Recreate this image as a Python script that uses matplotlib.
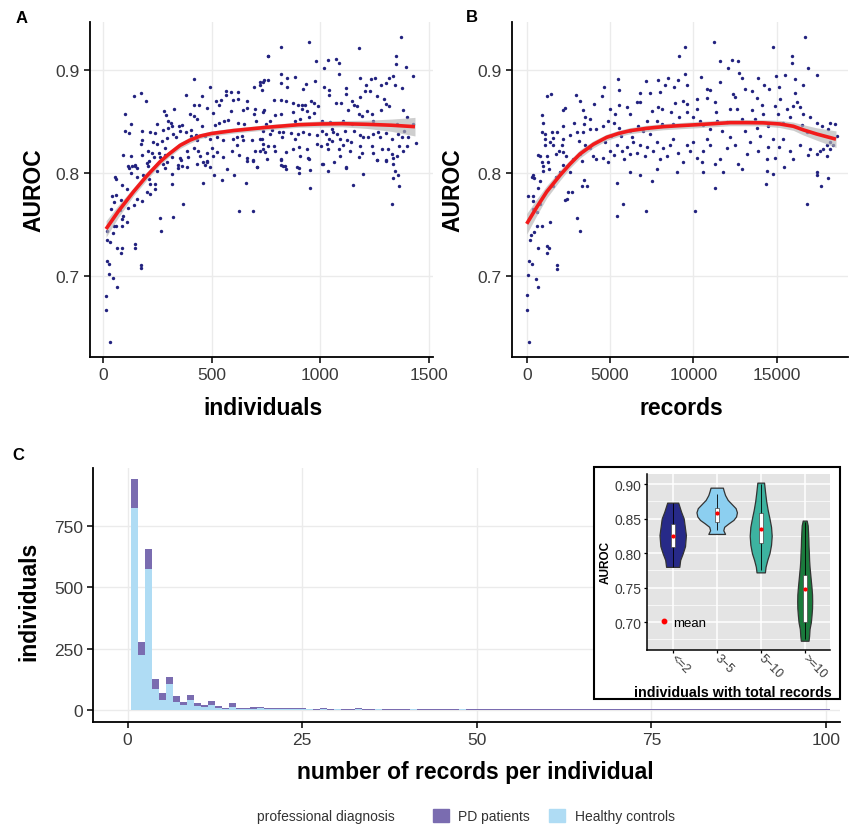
import matplotlib.pyplot as plt
import numpy as np
from matplotlib.patches import Rectangle, Patch
from matplotlib.lines import Line2D

plt.rcParams['font.family'] = ['Liberation Sans', 'DejaVu Sans']

# ---- panel A: AUROC vs number of individuals (individuals, auroc)
pts_individuals = [
    (758, .914), (420, .891), (493, .884), (143, .875), (173, .878), (198, .870), (382, .876), (456, .875),
    (420, .866), (444, .866), (566, .880), (566, .876), (590, .879), (620, .879), (519, .870), (542, .871),
    (536, .866), (597, .871), (623, .872), (662, .870), (695, .884), (723, .885), (738, .888), (734, .881),
    (761, .890), (103, .857), (127, .848), (101, .841), (121, .839), (283, .860), (290, .856), (325, .862),
    (298, .851), (312, .849), (401, .857), (419, .855), (434, .853), (480, .863), (508, .858), (457, .846),
    (516, .847), (536, .849), (559, .851), (577, .852), (590, .860), (646, .861), (662, .863), (702, .862),
    (697, .857), (743, .861), (706, .851), (623, .849), (651, .848), (250, .848), (178, .841), (217, .840),
    (240, .839), (278, .842), (301, .844), (316, .846), (324, .838), (348, .846), (365, .847), (355, .841),
    (382, .840), (404, .842), (404, .836), (428, .837), (178, .832), (173, .828), (232, .830), (247, .828),
    (272, .831), (293, .834), (335, .835), (431, .832), (470, .836), (493, .833), (527, .835), (554, .832),
    (597, .833), (616, .835), (638, .836), (646, .832), (685, .832), (731, .833), (738, .828), (769, .838),
    (94, .818), (127, .817), (181, .818), (209, .822), (227, .820), (236, .816), (259, .820), (262, .816),
    (285, .824), (287, .818), (316, .816), (355, .815), (359, .813), (388, .822), (393, .816), (420, .824),
    (439, .822), (447, .817), (480, .820), (503, .824), (508, .817), (527, .821), (554, .816), (593, .822),
    (616, .827), (628, .818), (662, .815), (689, .813), (700, .822), (723, .822), (746, .821), (754, .814),
    (132, .807), (147, .807), (201, .810), (278, .809), (362, .807), (385, .806), (462, .811), (480, .812),
    (493, .806), (708, .806),
    (949, .927), (820, .922), (762, .914), (1371, .932), (1179, .921), (1349, .914), (1349, .906), (1394, .903),
    (981, .909), (1038, .910), (1073, .911), (1087, .907), (1018, .902), (1086, .896), (1426, .894), (820, .896),
    (743, .890), (723, .888), (849, .892), (884, .893), (818, .887), (846, .884), (935, .886), (920, .882),
    (976, .889), (1018, .884), (1042, .881), (1041, .876), (1119, .883), (1184, .892), (1234, .891), (1253, .892),
    (1211, .885), (1230, .880), (1208, .880), (1184, .874), (1279, .885), (1302, .887), (1319, .892), (1334, .894),
    (1345, .885), (1376, .883), (1119, .877), (1260, .875), (1294, .872), (1303, .867), (1319, .865), (788, .871),
    (818, .871), (843, .870), (877, .868), (897, .866), (915, .866), (930, .866), (957, .870), (972, .868),
    (992, .865), (1073, .868), (1095, .868), (1148, .870), (1156, .866), (1168, .865), (1127, .861), (739, .859),
    (792, .856), (818, .857), (877, .859), (918, .862), (938, .860), (973, .858), (950, .854), (1181, .857),
    (1191, .855), (1218, .860), (1237, .857), (1280, .861), (1380, .861), (1399, .854), (1426, .848), (769, .851),
    (884, .851), (907, .853), (1007, .851), (1046, .850), (1107, .851), (1145, .848), (1245, .851), (1352, .848),
    (1386, .841), (751, .848), (735, .841), (777, .842), (812, .840), (823, .835), (830, .840), (864, .839),
    (884, .833), (900, .838), (920, .840), (950, .838), (987, .837), (1007, .841), (1027, .838), (1053, .843),
    (1061, .840), (1079, .838), (1042, .833), (1092, .833), (1115, .841), (1156, .841), (1125, .832), (1141, .830),
    (1184, .837), (1199, .835), (1222, .835), (1242, .838), (1268, .840), (1276, .835), (1303, .839), (1329, .833),
    (1360, .838), (1376, .835), (1406, .835), (1440, .829), (723, .833), (739, .823), (762, .826), (788, .826),
    (792, .822), (843, .821), (874, .823), (904, .825), (938, .823), (946, .815), (984, .828), (1003, .826),
    (1030, .828), (1038, .823), (1053, .831), (1089, .823), (1092, .817), (1104, .827), (1138, .822), (1184, .826),
    (1191, .820), (1237, .826), (1245, .820), (1283, .823), (1314, .823), (1329, .819), (1365, .826), (1383, .822),
    (1402, .826), (1181, .816), (1260, .813), (1303, .813), (1334, .815), (1356, .817), (818, .814), (907, .817),
    (1012, .809), (1119, .805), (830, .807), (843, .804),
    (117, .807), (121, .805), (147, .808), (155, .805), (209, .807), (213, .812), (293, .811), (347, .808),
    (347, .805), (431, .809), (470, .808), (477, .811), (127, .800), (55, .796), (60, .794), (158, .796),
    (186, .798), (213, .794), (247, .802), (316, .799), (285, .805), (511, .798), (569, .804), (605, .798),
    (662, .812), (692, .812), (711, .806), (546, .793), (657, .791), (216, .790), (239, .790), (239, .785),
    (316, .790), (459, .791), (89, .789), (112, .785), (201, .782), (217, .780), (40, .778), (58, .779),
    (52, .772), (81, .774), (37, .765), (78, .764), (117, .766), (143, .769), (155, .775), (181, .773),
    (91, .759), (89, .756), (112, .753), (58, .749), (50, .749), (86, .749), (370, .770), (263, .757),
    (324, .758), (266, .744), (626, .763), (692, .763), (20, .744), (17, .735), (32, .733), (48, .742),
    (63, .728), (86, .728), (83, .723), (147, .731), (147, .728), (17, .715), (29, .712), (173, .711),
    (173, .708), (26, .702), (48, .699), (63, .690), (14, .681), (14, .668), (30, .637),
    (818, .813), (818, .808), (838, .807), (895, .806), (903, .805), (903, .800), (953, .803), (953, .786),
    (950, .814), (1007, .809), (1035, .802), (1064, .811), (1119, .806), (1199, .799), (1150, .789), (1260, .813),
    (1302, .812), (1334, .809), (1345, .802), (1357, .798), (1334, .795), (1363, .788), (1333, .770),
]

# ---- panel B: AUROC vs number of records (records, auroc)
pts_records = [
    (16700, .932), (14800, .922), (9500, .922), (11260, .927), (9160, .914), (15900, .914), (15900, .907),
    (16900, .902), (12100, .902), (12300, .910), (12700, .909), (11600, .909), (12760, .897), (12900, .892),
    (9500, .896), (17400, .895), (15500, .895), (14940, .894), (13860, .892), (10440, .893), (11600, .888),
    (9100, .890), (8500, .892), (7900, .890), (7160, .889), (5460, .891), (4660, .884), (5540, .881),
    (8300, .885), (8840, .884), (9600, .885), (14260, .885), (14560, .882), (16100, .891), (16600, .885),
    (15160, .884), (13100, .882), (13540, .880), (10800, .882), (11000, .881), (7400, .878), (8000, .879),
    (1440, .877), (1200, .875), (2960, .876), (4500, .875), (6800, .878), (12400, .877), (16100, .878),
    (15200, .872), (13840, .873), (12500, .874), (9400, .870), (8900, .868), (9600, .867), (10200, .872),
    (10800, .873), (11300, .869), (7900, .864), (8100, .862), (6800, .869), (6600, .869), (6000, .864),
    (6200, .857), (5000, .862), (5540, .866), (4060, .867), (3200, .870), (3400, .861), (2300, .863),
    (2160, .861), (900, .856), (1000, .849), (940, .840), (1100, .838), (1500, .840), (1800, .840),
    (1560, .827), (1760, .819), (1960, .822), (2200, .833), (2360, .817), (2600, .837), (2840, .849),
    (3000, .840), (3160, .831), (3520, .854), (3460, .848), (3800, .853), (3800, .843), (4160, .843),
    (4560, .846), (4860, .851), (5260, .849), (5300, .857), (5560, .844), (5060, .836), (5660, .836),
    (6200, .841), (6300, .835), (6700, .846), (7000, .841), (7300, .844), (7200, .851), (7500, .860),
    (7800, .851), (8100, .848), (8660, .859), (8760, .848), (9160, .854), (9600, .859), (10000, .854),
    (10200, .862), (10400, .851), (10600, .847), (11000, .843), (11360, .859), (11400, .851), (11700, .841),
    (12000, .850), (12200, .862), (12600, .862), (12900, .853), (13100, .841), (13500, .861), (13700, .853),
    (13800, .844), (14100, .866), (14200, .857), (14500, .846), (14900, .865), (15100, .857), (15400, .849),
    (15600, .862), (15800, .854), (16000, .865), (16200, .869), (16400, .864), (16600, .857), (16500, .847),
    (16800, .840), (17000, .854), (17400, .849), (17700, .846), (18100, .843), (18500, .848), (18600, .836),
    (18200, .830), (18000, .827), (17600, .822), (17440, .819), (18000, .817), (18200, .823), (17400, .801),
    (17400, .798), (18100, .795), (17660, .788), (16800, .770), (17000, .823), (16860, .818), (16400, .827),
    (16000, .814), (15800, .822), (15400, .833), (15160, .825), (14900, .815), (14800, .833), (14500, .825),
    (14400, .814), (14360, .790), (14000, .836), (13900, .822), (13400, .830), (13200, .819), (12900, .804),
    (12700, .809), (12500, .827), (12200, .835), (12000, .824), (11600, .814), (11300, .809), (11300, .786),
    (11000, .827), (10800, .833), (10600, .822), (10500, .811), (10200, .815), (10600, .801), (10000, .830),
    (9800, .822), (9600, .827), (9400, .811), (9100, .820), (8800, .833), (8600, .827), (8440, .817),
    (8200, .824), (8000, .814), (7800, .830), (7600, .822), (7400, .838), (7200, .825), (7100, .817),
    (6800, .827), (6600, .820), (6400, .830), (6200, .819), (6000, .825), (5860, .814), (5700, .822),
    (5400, .827), (5260, .818), (5000, .822), (4860, .811), (4700, .830), (4600, .815), (4160, .814),
    (4000, .817), (3800, .824), (3520, .827), (3300, .812), (3200, .819), (2800, .814), (2600, .801),
    (2400, .807), (2160, .808), (2000, .801), (1760, .796), (1600, .788), (1360, .804), (1200, .817),
    (1000, .807), (960, .802), (800, .792), (700, .786), (700, .818), (300, .796), (460, .795),
    (100, .778), (360, .778), (400, .765), (800, .770), (600, .762), (900, .749), (600, .749),
    (1400, .753), (200, .735), (260, .740), (700, .728), (1200, .730), (1200, .723), (1360, .728),
    (440, .743), (140, .715), (300, .712), (1800, .711), (1800, .707), (100, .701), (560, .698),
    (700, .690), (0, .682), (0, .668), (140, .637), (3200, .744), (3000, .757), (2400, .775),
    (2300, .774), (2500, .782), (2700, .782), (3300, .788), (3600, .788), (3460, .793), (5400, .759),
    (5800, .770), (7160, .763), (10100, .763), (7500, .792), (5400, .791), (6200, .801), (6800, .798),
    (7800, .804), (9000, .801), (11800, .801), (14800, .799), (14400, .802), (15460, .806), (1100, .833),
    (1400, .830), (1560, .834), (2100, .827), (1100, .827), (800, .817), (900, .811), (1300, .811),
    (2200, .846), (3400, .840), (2200, .821), (400, .798), (360, .773), (18200, .849), (17800, .823),
    (18400, .827),
]

# loess fits (x, fit, half-width of ribbon)
fit_a_x = [14, 70, 140, 200, 262, 300, 355, 400, 447, 500, 600, 754, 900, 1000, 1100, 1215, 1330, 1437]
fit_a_y = [0.746, 0.763, 0.782, 0.797, 0.811, 0.818, 0.827, 0.832, 0.836, 0.8385, 0.8413, 0.8445,
           0.847, 0.8477, 0.848, 0.8474, 0.8465, 0.8451]
fit_a_se = [0.008, 0.006, 0.004, 0.004, 0.003, 0.003, 0.003, 0.003, 0.0025, 0.0025, 0.0025, 0.0025,
            0.0025, 0.003, 0.003, 0.004, 0.006, 0.009]
fit_b_x = [0, 600, 1200, 2000, 2600, 3200, 4000, 4800, 5500, 6200, 7200, 8200, 9200, 10200, 12200,
           13200, 14200, 15200, 16000, 16600, 17400, 18560]
fit_b_y = [0.751, 0.767, 0.782, 0.798, 0.809, 0.8187, 0.828, 0.8348, 0.8385, 0.8412, 0.8435, 0.8451,
           0.8461, 0.847, 0.849, 0.849, 0.8488, 0.8477, 0.8455, 0.842, 0.838, 0.833]
fit_b_se = [0.010, 0.008, 0.006, 0.005, 0.004, 0.004, 0.0035, 0.003, 0.003, 0.003, 0.003, 0.003,
            0.003, 0.003, 0.003, 0.003, 0.003, 0.0035, 0.004, 0.005, 0.006, 0.008]

# ---- panel C: histogram of records per individual (bins 1..100)
bins = list(range(1, 101))
healthy_counts = [823, 224, 574, 84, 41, 104, 33, 19, 41, 14, 10, 20, 6, 3, 13, 2, 3, 4, 5, 3, 3, 2, 2, 2, 2,
                  1, 0, 1, 0, 1, 0, 0, 1, 0, 0, 1, 0, 0, 0, 0, 1, 0, 0, 0, 0, 0, 0, 1, 0, 0,
                  0, 0, 0, 0, 0, 0, 0, 0, 0, 0, 0, 0, 0, 0, 0, 0, 0, 0, 0, 0, 0, 0, 0, 0, 0,
                  0, 0, 0, 0, 0, 0, 0, 0, 0, 0, 0, 0, 0, 0, 0, 0, 0, 0, 0, 0, 0, 0, 0, 0, 0]
pd_counts = [118, 51, 82, 41, 26, 29, 22, 14, 19, 12, 10, 17, 8, 4, 14, 5, 5, 6, 7, 5, 4, 4, 4, 4, 3,
             3, 2, 4, 3, 3, 2, 3, 4, 2, 2, 3, 3, 2, 2, 2, 3, 1, 2, 2, 2, 2, 1, 3, 2, 1,
             2, 2, 1, 2, 1, 2, 1, 1, 2, 2, 1, 2, 1, 1, 2, 2, 1, 1, 2, 1, 1, 2, 1, 1, 1,
             2, 1, 1, 1, 1, 1, 2, 1, 1, 2, 3, 2, 1, 1, 1, 1, 2, 1, 1, 1, 1, 1, 2, 1, 1]

# ---- inset: AUROC by records group (violin outlines)
groups = ['<=2', '3\u22125', '5\u221210', '>=10']
group_colors = ['#272a88', '#8ccff0', '#3db3a0', '#1a7a3c']
violin_levels = [
    [0.780, 0.790, 0.800, 0.810, 0.826, 0.850, 0.860, 0.873],
    [0.8277, 0.833, 0.838, 0.843, 0.848, 0.853, 0.859, 0.865, 0.871, 0.877, 0.884, 0.890, 0.8947],
    [0.772, 0.780, 0.790, 0.800, 0.812, 0.825, 0.838, 0.850, 0.862, 0.875, 0.888, 0.902],
    [0.673, 0.680, 0.690, 0.700, 0.710, 0.720, 0.730, 0.740, 0.750, 0.760, 0.770, 0.780, 0.790,
     0.800, 0.810, 0.820, 0.830, 0.840, 0.847],
]
violin_halfwidth = [
    [0.15, 0.17, 0.23, 0.28, 0.30, 0.25, 0.19, 0.125],
    [0.19, 0.15, 0.17, 0.27, 0.38, 0.44, 0.46, 0.43, 0.34, 0.25, 0.19, 0.16, 0.14],
    [0.095, 0.11, 0.15, 0.20, 0.235, 0.25, 0.235, 0.20, 0.16, 0.125, 0.10, 0.076],
    [0.087, 0.10, 0.11, 0.14, 0.155, 0.167, 0.17, 0.167, 0.155, 0.14, 0.125, 0.11, 0.10,
     0.095, 0.087, 0.083, 0.076, 0.068, 0.045],
]
box_q1 = [0.8085, 0.8446, 0.8147, 0.700]
box_q3 = [0.842, 0.8649, 0.858, 0.7684]
whisk_lo = [0.780, 0.833, 0.775, 0.675]
whisk_hi = [0.873, 0.885, 0.900, 0.845]
group_means = [0.8253, 0.8576, 0.8345, 0.7472]

PD_COLOR = '#7a6cb0'
HC_COLOR = '#afdcf4'
DOT_COLOR = '#22227f'
TICK_COLOR = '#3a3a3a'

W, H = 851, 829
fig = plt.figure(figsize=(W / 100, H / 100), dpi=100)


def px_axes(x0, y0, x1, y1, **kw):
    return fig.add_axes([x0 / W, 1 - y1 / H, (x1 - x0) / W, (y1 - y0) / H], **kw)


def classic(ax, size=12.5):
    for s in ['top', 'right']:
        ax.spines[s].set_visible(False)
    for s in ['left', 'bottom']:
        ax.spines[s].set_linewidth(1.3)
    ax.tick_params(direction='out', length=4, width=1.1, labelsize=size, labelcolor=TICK_COLOR, pad=3.5)
    ax.grid(color='#ebebeb', linewidth=1.0)
    ax.set_axisbelow(True)


def scatter_panel(ax, pts, fx, fy, fse):
    p = np.array(pts)
    ax.scatter(p[:, 0], p[:, 1], s=6, color=DOT_COLOR, linewidths=0, zorder=2)
    fy = np.array(fy)
    fse = np.array(fse)
    ax.fill_between(fx, fy - fse, fy + fse, color='#b5b5b5', alpha=0.65, lw=0, zorder=3)
    ax.plot(fx, fy, color='#f21b1b', lw=2.6, zorder=4, solid_capstyle='butt', solid_joinstyle='round')
    ax.set_ylim(0.622, 0.9465)
    ax.set_yticks([0.7, 0.8, 0.9])
    ax.set_yticklabels(['0.7', '0.8', '0.9'])
    ax.set_ylabel('AUROC', fontsize=16.5, fontweight='bold')
    classic(ax)


# A
axA = px_axes(90, 23, 433, 358)
scatter_panel(axA, pts_individuals, fit_a_x, fit_a_y, fit_a_se)
axA.set_xlim(-60, 1520)
axA.set_xticks([0, 500, 1000, 1500])
axA.set_xlabel('individuals', fontsize=16.5, fontweight='bold')
axA.yaxis.set_label_coords(-0.13, 0.5)
axA.xaxis.set_label_coords(0.503, -0.115)

# B
axB = px_axes(511.7, 23, 848, 358)
scatter_panel(axB, pts_records, fit_b_x, fit_b_y, fit_b_se)
axB.set_xlim(-900, 19280)
axB.set_xticks([0, 5000, 10000, 15000])
axB.set_xlabel('records', fontsize=16.5, fontweight='bold')
axB.yaxis.set_label_coords(-0.14, 0.5)
axB.xaxis.set_label_coords(0.506, -0.115)

# C
axC = px_axes(93.3, 469, 840, 722.7)
axC.bar(bins, healthy_counts, width=1.0, color=HC_COLOR, lw=0, zorder=2)
axC.bar(bins, pd_counts, width=1.0, bottom=healthy_counts, color=PD_COLOR, lw=0, zorder=2)
axC.set_xlim(-4.9, 102)
axC.set_ylim(-49, 988)
axC.set_xticks([0, 25, 50, 75, 100])
axC.set_yticks([0, 250, 500, 750])
classic(axC)
axC.set_xlabel('number of records per individual', fontsize=16.5, fontweight='bold')
axC.set_ylabel('individuals', fontsize=16.5, fontweight='bold')
axC.xaxis.set_label_coords(0.511, -0.15)
axC.yaxis.set_label_coords(-0.071, 0.48)

# inset frame
frame = Rectangle((594 / W, 1 - 700 / H), 246 / W, 232 / H, transform=fig.transFigure,
                  facecolor='white', edgecolor='black', lw=1.5, zorder=5)
fig.add_artist(frame)

axI = px_axes(646.7, 475, 830, 650.7)
axI.set_zorder(6)
axI.set_facecolor('#e4e4e4')
xpos = np.arange(1, len(groups) + 1)
for i in range(len(groups)):
    lv = np.array(violin_levels[i])
    hw = np.array(violin_halfwidth[i])
    axI.fill_betweenx(lv, xpos[i] - hw, xpos[i] + hw, facecolor=group_colors[i],
                      edgecolor='#333333', lw=0.9, zorder=2)
axI.vlines(xpos, whisk_lo, whisk_hi, color='black', lw=0.6, zorder=3)
axI.bar(xpos, np.array(box_q3) - np.array(box_q1), bottom=box_q1, width=0.1,
        color='white', edgecolor='#444444', lw=0.5, zorder=4)
axI.scatter(xpos, group_means, s=9, color='red', linewidths=0, zorder=5)
axI.set_xlim(0.409, 4.575)
axI.set_ylim(0.660, 0.9145)
axI.set_xticks(xpos)
axI.set_xticklabels(groups, rotation=-45, ha='left', va='center', rotation_mode='anchor')
axI.set_yticks([0.70, 0.75, 0.80, 0.85, 0.90])
axI.set_yticks([0.675, 0.725, 0.775, 0.825, 0.875], minor=True)
axI.set_yticklabels(['0.70', '0.75', '0.80', '0.85', '0.90'])
for s in ['top', 'right']:
    axI.spines[s].set_visible(False)
for s in ['left', 'bottom']:
    axI.spines[s].set_linewidth(1.1)
axI.tick_params(direction='out', length=2.5, width=0.9, labelsize=10, labelcolor=TICK_COLOR, pad=1.5)
axI.tick_params(axis='x', labelsize=9, pad=2)
axI.tick_params(axis='y', which='minor', length=0)
axI.grid(which='major', color='white', lw=1.1)
axI.grid(which='minor', axis='y', color='white', lw=0.5)
axI.set_axisbelow(True)
axI.set_ylabel('AUROC', fontsize=8.5, fontweight='bold', labelpad=2)
axI.set_xlabel('individuals with total records', fontsize=10.3, fontweight='bold')
axI.xaxis.set_label_coords(0.47, -0.2)
axI.legend(handles=[Line2D([], [], marker='o', color='red', ls='', ms=3.2)], labels=['mean'],
           loc='center left', bbox_to_anchor=(0.06, 0.155), frameon=False, fontsize=9.5,
           handletextpad=0.2, borderaxespad=0, borderpad=0, handlelength=1.0)

# panel letters
fig.text(21.7 / W, 1 - 18.3 / H, 'A', fontsize=12, fontweight='bold', ha='center', va='center')
fig.text(471.7 / W, 1 - 17.3 / H, 'B', fontsize=12, fontweight='bold', ha='center', va='center')
fig.text(18 / W, 1 - 456 / H, 'C', fontsize=12, fontweight='bold', ha='center', va='center')

# bottom legend
fig.text(257 / W, 1 - 817 / H, 'professional diagnosis', fontsize=10, color='#333333', ha='left', va='center')
fig.legend(handles=[Patch(color=PD_COLOR), Patch(color=HC_COLOR)], labels=['PD patients', 'Healthy controls'],
           loc='center left', bbox_to_anchor=(432.7 / W, 1 - 817 / H), ncol=2, frameon=False, fontsize=10,
           handlelength=1.15, handleheight=1.15, handletextpad=0.7, columnspacing=1.35,
           borderaxespad=0, borderpad=0, labelcolor='#333333')

fig.savefig('out.png', dpi=100)
